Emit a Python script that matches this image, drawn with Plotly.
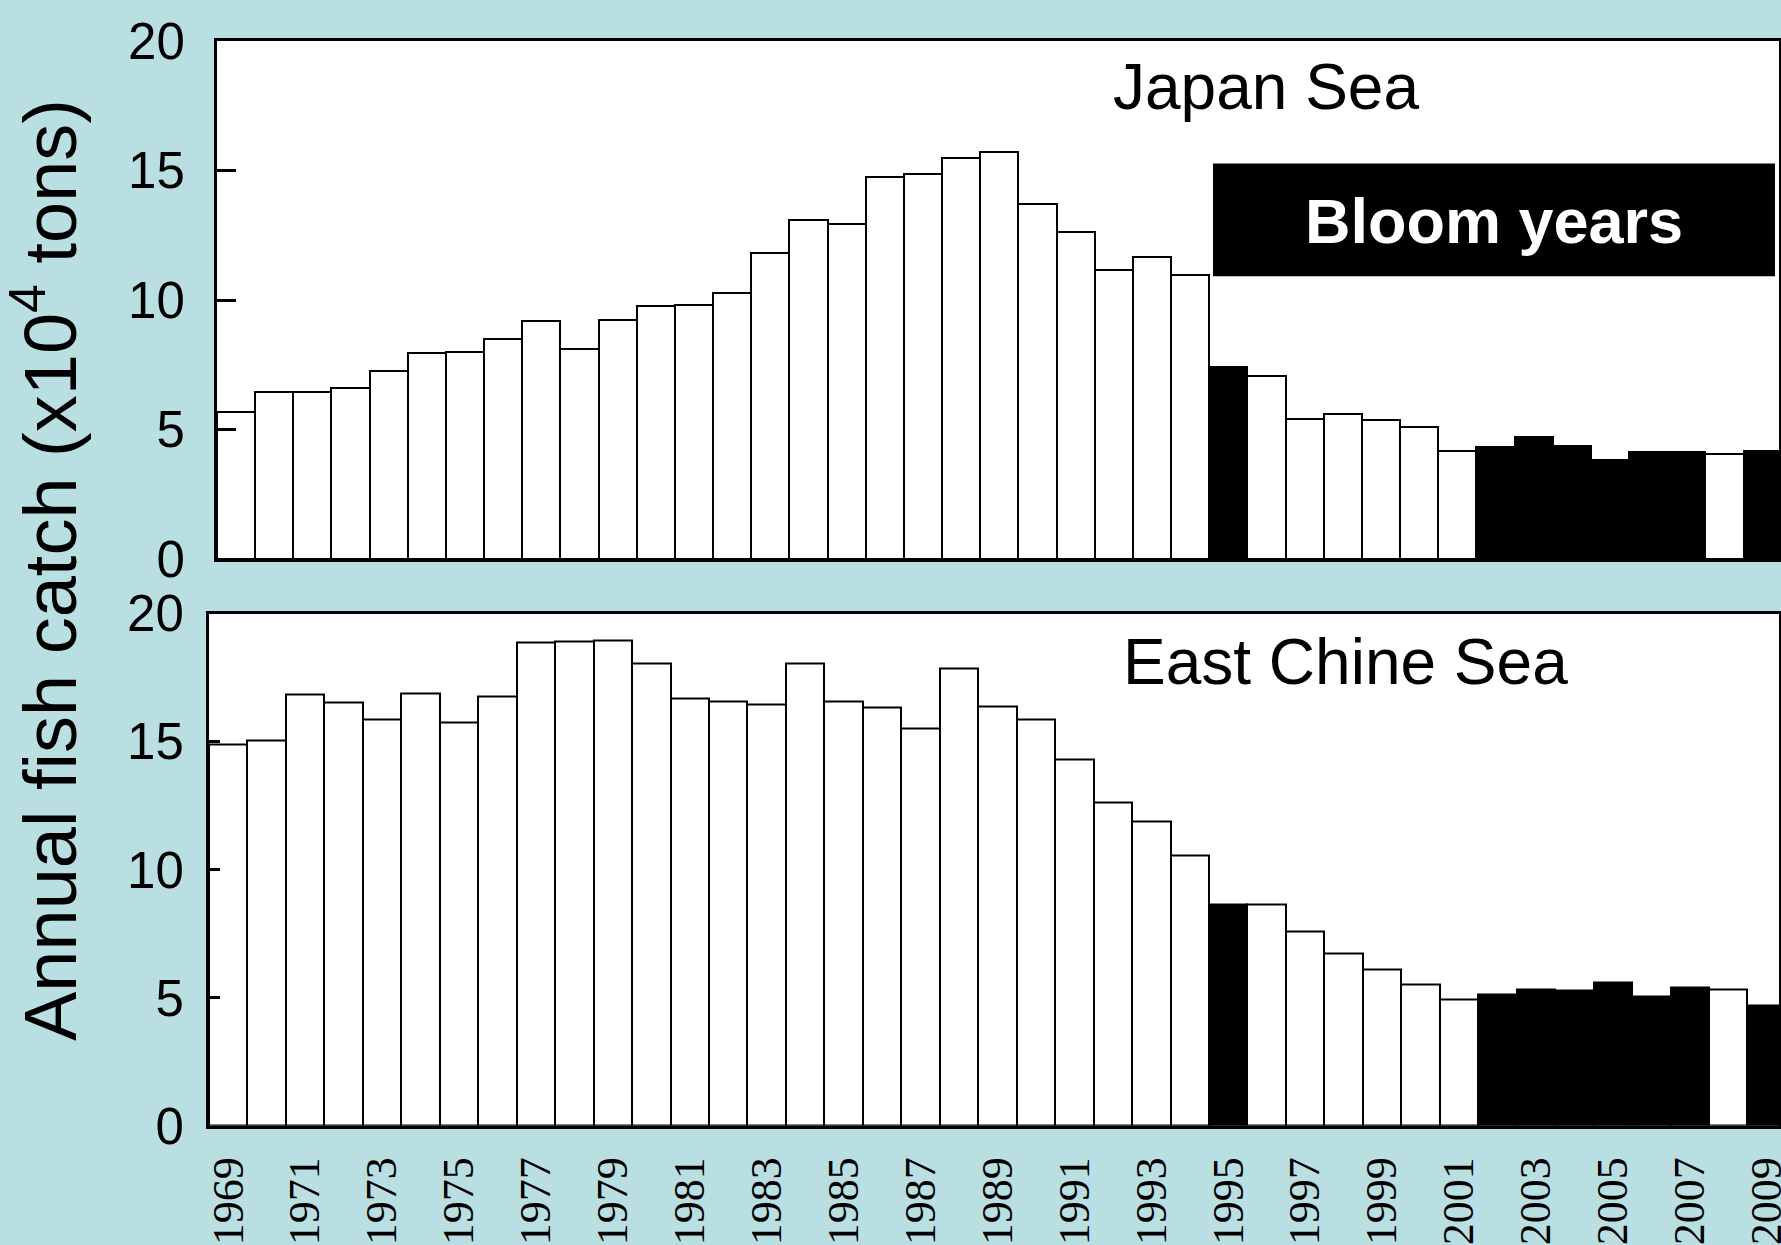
import plotly.graph_objects as go

W, H = 1781, 1245

years = [1969, 1970, 1971, 1972, 1973, 1974, 1975, 1976, 1977, 1978,
         1979, 1980, 1981, 1982, 1983, 1984, 1985, 1986, 1987, 1988,
         1989, 1990, 1991, 1992, 1993, 1994, 1995, 1996, 1997, 1998,
         1999, 2000, 2001, 2002, 2003, 2004, 2005, 2006, 2007, 2008, 2009]

japan_sea = [5.67, 6.44, 6.45, 6.59, 7.27, 7.95, 7.99, 8.49, 9.20, 8.09,
             9.24, 9.76, 9.79, 10.27, 11.80, 13.09, 12.92, 14.73, 14.85, 15.47,
             15.70, 13.69, 12.64, 11.15, 11.65, 10.98, 7.41, 7.08, 5.41, 5.61,
             5.38, 5.11, 4.18, 4.33, 4.71, 4.37, 3.84, 4.15, 4.12, 4.06, 4.18]

east_china_sea = [14.87, 15.03, 16.85, 16.53, 15.86, 16.87, 15.76, 16.74, 18.85, 18.91,
                  18.95, 18.04, 16.68, 16.58, 16.43, 18.03, 16.56, 16.31, 15.52, 17.85,
                  16.35, 15.87, 14.31, 12.62, 11.88, 10.53, 8.64, 8.64, 7.57, 6.74,
                  6.11, 5.53, 4.92, 5.13, 5.30, 5.29, 5.58, 5.05, 5.40, 5.30, 4.68]

bloom_years = [1995, 2002, 2003, 2004, 2005, 2006, 2007, 2009]

tick_years = [1969, 1971, 1973, 1975, 1977, 1979, 1981, 1983, 1985, 1987, 1989,
              1991, 1993, 1995, 1997, 1999, 2001, 2003, 2005, 2007, 2009]
tick_labels = ["1969", "1971", "1973", "1975", "1977", "1979", "1981", "1983",
               "1985", "1987", "1989", "1991", "1993", "1995", "1997", "1999",
               "2001", "2003", "2005", "2007", "2009"]

y_ticks = [0, 5, 10, 15, 20]
panel_titles = ["Japan Sea", "East Chine Sea"]
legend_text = "Bloom years"
y_title = "Annual fish catch (x10<sup>4</sup> tons)"

BG = "#B9DFE2"
SANS = "Liberation Sans, Arial, sans-serif"
SERIF = "Liberation Serif, Times New Roman, serif"


def fx(p):
    return p / W


def fy(p):
    return 1 - p / H


colors = ["black" if y in bloom_years else "white" for y in years]

fig = go.Figure()
fig.add_trace(go.Bar(x=years, y=japan_sea, xaxis="x", yaxis="y",
                     marker=dict(color=colors, line=dict(color="black", width=2)),
                     showlegend=False))
fig.add_trace(go.Bar(x=years, y=east_china_sea, xaxis="x2", yaxis="y2",
                     marker=dict(color=colors, line=dict(color="black", width=2)),
                     showlegend=False))

common_line = dict(showline=True, linecolor="black", linewidth=3, mirror=True,
                   showgrid=False, zeroline=False)

fig.update_layout(
    width=W, height=H, autosize=False,
    margin=dict(l=0, r=0, t=0, b=0),
    paper_bgcolor=BG, plot_bgcolor="white",
    bargap=0,
    xaxis=dict(domain=[fx(217), fx(1779)], range=[1968.5, 2009.43], anchor="y",
               showticklabels=False, ticks="", automargin=False, **common_line),
    yaxis=dict(domain=[fy(559), fy(41)], range=[0, 20], anchor="x",
               tickvals=y_ticks, ticks="inside", ticklen=19, tickwidth=3,
               tickcolor="black", ticklabelstandoff=19,
               tickfont=dict(family=SANS, size=51, color="black"),
               automargin=False, **common_line),
    xaxis2=dict(domain=[fx(209), fx(1779)], range=[1968.5, 2009.32], anchor="y2",
                tickvals=tick_years, ticktext=tick_labels, tickangle=-90, ticks="",
                ticklabelstandoff=11, ticklabeloverflow="allow",
                tickfont=dict(family=SERIF, size=44, color="black"),
                automargin=False, **common_line),
    yaxis2=dict(domain=[fy(1125.7), fy(613.6)], range=[0, 20], anchor="x2",
                tickvals=y_ticks, ticks="inside", ticklen=11, tickwidth=3,
                tickcolor="black", ticklabelstandoff=12,
                tickfont=dict(family=SANS, size=51, color="black"),
                automargin=False, **common_line),
    shapes=[dict(type="rect", xref="paper", yref="paper",
                 x0=fx(1213), x1=fx(1775), y0=fy(276.3), y1=fy(163.4),
                 fillcolor="black", line=dict(width=0), layer="above")],
    annotations=[
        dict(text=legend_text, xref="paper", yref="paper", x=fx(1494), y=fy(221),
             xanchor="center", yanchor="middle", showarrow=False,
             font=dict(family=SANS, size=63, color="white", weight="bold")),
        dict(text=panel_titles[0], xref="paper", yref="paper", x=fx(1111), y=fy(87),
             xanchor="left", yanchor="middle", showarrow=False,
             font=dict(family=SANS, size=64, color="black")),
        dict(text=panel_titles[1], xref="paper", yref="paper", x=fx(1121), y=fy(662),
             xanchor="left", yanchor="middle", showarrow=False,
             font=dict(family=SANS, size=64, color="black")),
        dict(text=y_title, xref="paper", yref="paper", x=fx(45), y=fy(570),
             xanchor="center", yanchor="middle", textangle=-90, showarrow=False,
             font=dict(family=SANS, size=74, color="black")),
    ],
)

fig.write_html("out.html")
